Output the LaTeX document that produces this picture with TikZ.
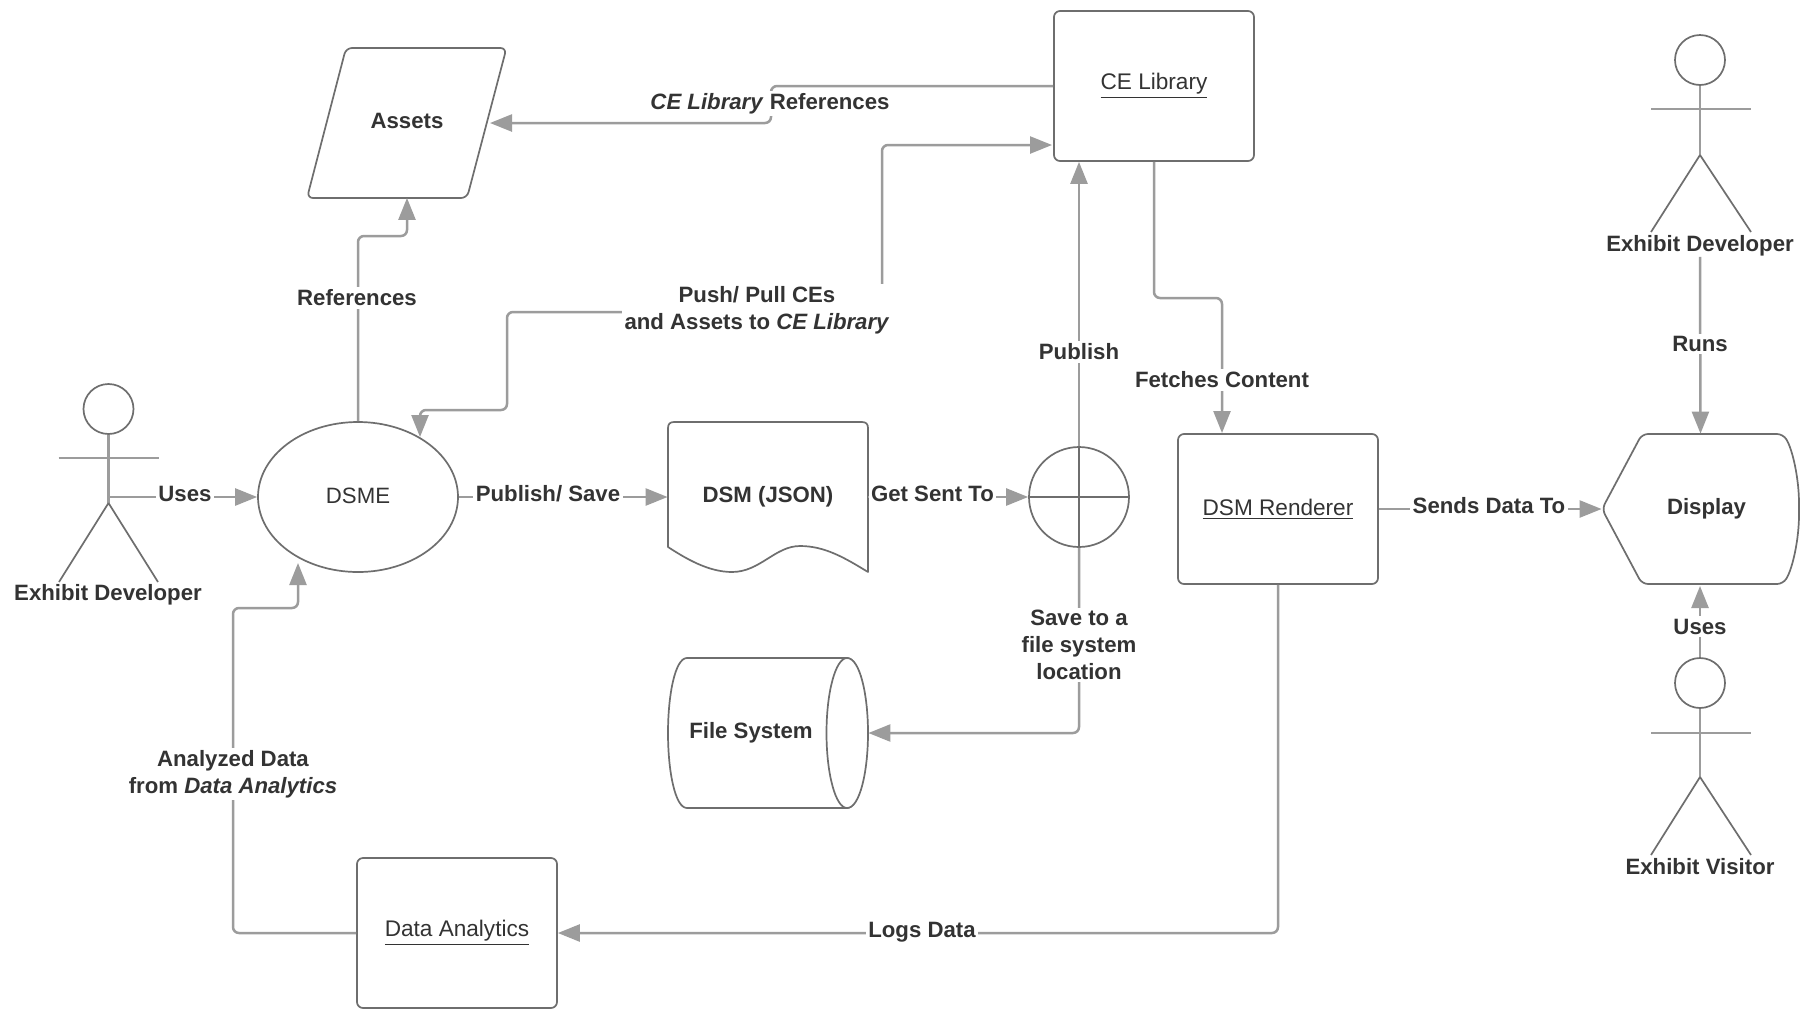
\documentclass[tikz,border=0pt]{standalone}
\usepackage{fontspec}
\setmainfont{Liberation Sans}
\usetikzlibrary{arrows.meta,shapes.geometric,calc}
\definecolor{conn}{HTML}{9C9C9C}
\definecolor{edge}{HTML}{6E6E6E}
\definecolor{ink}{HTML}{333333}
\newcommand{\ulined}[1]{\vtop{\hbox{\fontsize{11.3}{13.5}\selectfont #1}\kern1.1pt\hrule height 0.8pt}}
\tikzset{
  every node/.style={text=ink,font=\fontsize{11.1}{13.5}\selectfont},
  shapeline/.style={draw=edge,line width=0.85pt,fill=white,line join=round},
  boxnode/.style={shapeline,rounded corners=3pt,minimum width=100pt,minimum height=75pt,inner sep=0pt},
  plainnode/.style={inner sep=0pt,minimum width=100pt,minimum height=75pt,font=\fontsize{11.1}{13.5}\selectfont\bfseries},
  lab/.style={fill=white,inner sep=1.2pt,font=\fontsize{11.1}{13.5}\selectfont\bfseries,align=center},
  actorname/.style={inner sep=0pt,font=\fontsize{11.1}{13.5}\selectfont\bfseries},
  wire/.style={draw=conn,line width=1.25pt,rounded corners=3pt},
  arrowed/.style={wire,-{Triangle[length=11pt,width=8.5pt,fill=conn]}},
  both/.style={wire,{Triangle[length=11pt,width=8.5pt,fill=conn]}-{Triangle[length=11pt,width=8.5pt,fill=conn]}},
  head/.style={circle,draw=edge,line width=0.85pt,minimum size=25pt,inner sep=0pt},
  limb/.style={draw=edge,line width=0.85pt},
  spine/.style={draw=conn,line width=1.3pt},
}
\begin{document}
\begin{tikzpicture}[x=0.5pt,y=-0.5pt]
\useasboundingbox (0,0) rectangle (1800,1008);
\fill[white] (0,0) rectangle (1800,1008);

% --- custom outlines
\draw[shapeline,rounded corners=3pt] (346,48) -- (506.5,48) -- (467,198) -- (307,198) -- cycle;
\draw[shapeline] (674,422) -- (862,422) .. controls (866,422) and (868,424) .. (868,428)
  -- (868,572) .. controls (845,558) and (825,546) .. (800,546)
  .. controls (775,546) and (760,572) .. (732,572)
  .. controls (708,572) and (685,558) .. (668,547)
  -- (668,428) .. controls (668,424) and (670,422) .. (674,422) -- cycle;
\draw[shapeline] (847,658) -- (687,658) .. controls (675,658) and (668,695) .. (668,733)
  .. controls (668,771) and (675,808) .. (687,808) -- (847,808);
\draw[shapeline] (847,733) ellipse [x radius=20.5,y radius=75];
\draw[shapeline] (847,658) .. controls (860,658) and (868,695) .. (868,733)
  .. controls (868,771) and (860,808) .. (847,808);
\draw[shapeline,rounded corners=3pt] (1602,509) -- (1642,434) -- (1783,434)
  .. controls (1793,450) and (1799,480) .. (1799,509)
  .. controls (1799,538) and (1793,568) .. (1783,584) -- (1642,584) -- cycle;

% --- nodes
\node[plainnode] (assets) at (407,122.5) {\raisebox{1.2pt}{Assets}};
\node[boxnode] (ce) at (1154,86) {\ulined{CE Library}};
\node[boxnode,ellipse] (dsme) at (358,497) {\raisebox{1.2pt}{DSME}};
\node[plainnode] (dsm) at (768,497) {\raisebox{0.5pt}{DSM (JSON)}};
\node[plainnode] (fs) at (768,733) {\hspace*{-17pt}File System};
\node[boxnode] (renderer) at (1278,509) {\ulined{DSM Renderer}};
\node[plainnode,minimum width=98.5pt] (display) at (1700.5,509) {\hspace*{6pt}Display};
\node[boxnode] (analytics) at (457,933) {\ulined{Data Analytics}};
\node[circle,draw=edge,line width=0.85pt,minimum size=50pt,inner sep=0pt] (merge) at (1079,497) {};

% --- merge cross
\draw[limb] (merge.west) -- (merge.east);
\draw[limb] (merge.north) -- (merge.south);

% --- actors
\node[head] (actorA) at (108.5,409) {};
\coordinate (actorAc) at (108.5,503);
\coordinate (actorAh) at (108.5,497);
\draw[spine] (actorA.south) -- (actorAc);
\draw[spine] (58.5,458) -- (158.5,458);
\draw[limb] (actorAc) -- (59,582) (actorAc) -- (158,582);

\node[head] (actorB) at (1700,60) {};
\coordinate (actorBc) at (1700,155);
\draw[spine] (actorB.south) -- (actorBc);
\draw[spine] (1651,109) -- (1751,109);
\draw[limb] (actorBc) -- (1651,232) (actorBc) -- (1751,232);

\node[head] (actorC) at (1700,683) {};
\coordinate (actorCc) at (1700,777);
\draw[spine] (actorC.south) -- (actorCc);
\draw[limb,draw=conn] (1651,733) -- (1751,733);
\draw[limb] (actorCc) -- (1651,855) (actorCc) -- (1751,855);

\node[actorname] (devA) at (108,595) {Exhibit Developer};
\node[actorname] (devB) at (1700,246) {Exhibit Developer};
\node[actorname] (visitor) at (1700,866.5) {Exhibit Visitor};

% --- connectors
\coordinate (assetsIn) at (490,123);
\coordinate (pushA) at (1052,145);
\coordinate (pushB) at (420,437);
\coordinate (dsmeIn) at (298,563);
\draw[arrowed] (ce.west |- 0,86) -- (771,86) -- (771,123) -- (assetsIn);
\draw[arrowed] (dsme.north) -- (358,236) -- (407,236) -- (assets.south);
\draw[both] (pushA) -- (882,145) -- (882,312) -- (507,312) -- (507,410) -- (420,410) -- (pushB);
\draw[arrowed] (actorAh) -- (dsme.west);
\draw[arrowed] (dsme.east) -- (dsm.west);
\draw[arrowed] (dsm.east) -- (merge.west);
\draw[arrowed] (merge.north) -- (merge.center |- ce.south);
\draw[arrowed] (merge.south) -- (1079,733) -- (fs.east);
\draw[arrowed] (ce.south) -- (1154,298) -- (1222,298) -- (1222,433);
\draw[arrowed] (renderer.east) -- (display.west);
\draw[arrowed] (devB.south) -- (display.north);
\draw[arrowed] (actorC.north) -- (1700,586);
\draw[arrowed] (renderer.south) -- (1278,933) -- (analytics.east);
\draw[arrowed] (analytics.west) -- (233,933) -- (233,608) -- (298,608) -- (dsmeIn);

% --- labels
\node[lab] (l1) at (770,103.5) {\textit{CE Library} References};
\node[lab] (l2) at (357,298) {References};
\node[lab] (l3) at (757,310.5) {Push/ Pull CEs\\and Assets to \textit{CE Library}};
\node[lab] (l4) at (185,494) {Uses};
\node[lab] (l5) at (548,494) {Publish/ Save};
\node[lab] (l6) at (932.5,494) {Get Sent To};
\node[lab] (l7) at (1079,352) {Publish};
\node[lab] (l8) at (1079,645) {Save to a\\file system\\location};
\node[lab] (l9) at (1222,380) {Fetches Content};
\node[lab] (l10) at (1489,506) {Sends Data To};
\node[lab] (l11) at (1700,344) {Runs};
\node[lab] (l12) at (1700,626.5) {Uses};
\node[lab] (l13) at (922,932) {Logs Data};
\node[lab] (l14) at (233,774) {Analyzed Data\\from \textit{Data Analytics}};
\end{tikzpicture}
\end{document}
